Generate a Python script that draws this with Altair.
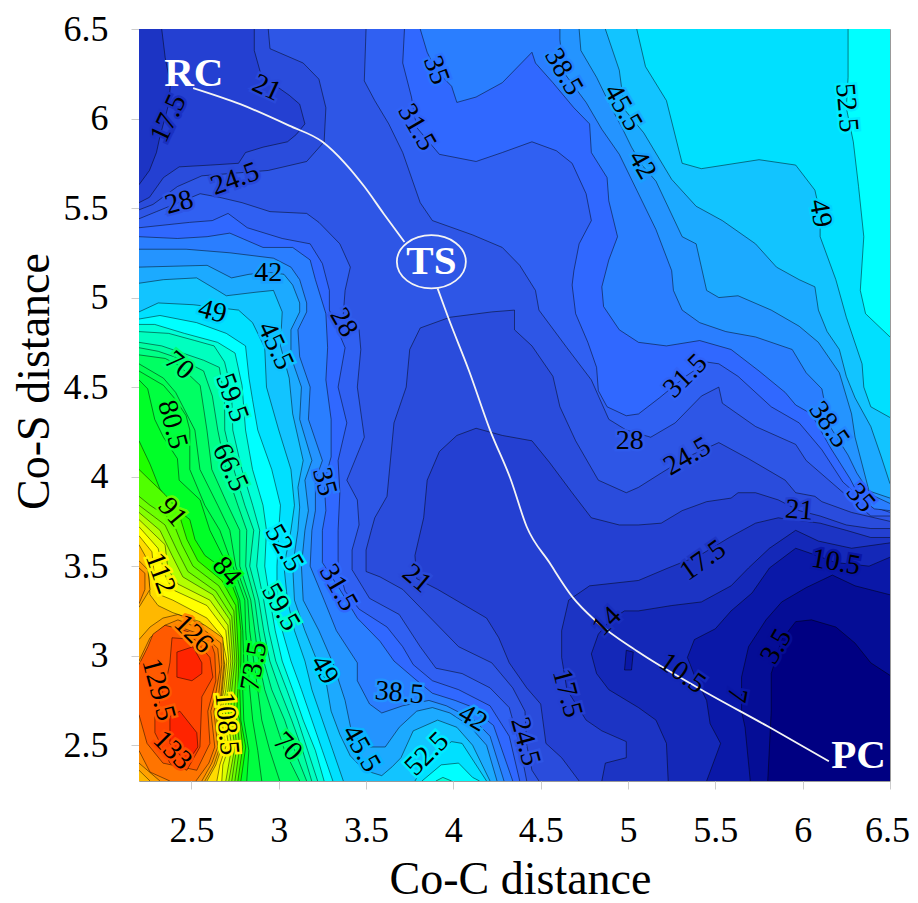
import altair as alt
import pandas as pd

OUTL, OUTR, OUTB, OUTT = 2.0, 6.7, 2.1, 6.7
STATION_Y = [4.26, 4.04, 3.84, 3.70, 3.50, 3.31, 3.14, 2.97, 2.81, 2.64, 2.47, 2.30]

RIGHT28 = [(3.50,6.50),(3.49,6.21),(3.55,6.10),(3.63,5.97),(3.71,5.81),(3.81,5.53),(3.88,5.43),(4.11,5.35),(4.28,5.28),(4.38,5.18),(4.47,5.04),(4.49,4.93),(4.65,4.72),(4.79,4.54),(4.89,4.32),(4.99,4.26),(5.13,4.22),(5.27,4.30),(5.42,4.45),(5.52,4.50),(5.54,4.41),(5.73,4.28),(5.96,4.18),(6.02,4.09),(6.15,3.98),(6.28,3.87),(6.39,3.78),(6.50,3.78)]
LEFT28 = [(4.42,2.30),(4.38,2.50),(4.32,2.71),(4.21,2.82),(4.05,2.90),(3.90,2.93),(3.81,3.05),(3.69,3.23),(3.52,3.32),(3.42,3.48),(3.42,3.59),(3.46,3.73),(3.45,3.87),(3.39,3.98),(3.49,4.22),(3.45,4.50),(3.47,4.71),(3.46,4.82),(3.37,4.91),(3.38,5.04),(3.41,5.17),(3.35,5.30),(3.23,5.42),(3.16,5.47),(2.95,5.48),(2.79,5.53),(2.66,5.56),(2.55,5.58),(2.30,5.48),(2.20,5.44)]
UL245 = [(2.94,6.5),(2.95,6.39),(3.14,6.31),(3.23,6.22),(3.27,6.06),(3.26,5.87),(3.16,5.76),(2.94,5.71),(2.56,5.68),(2.42,5.62),(2.28,5.52),(2.20,5.49)]
UL21 = [(2.86,6.5),(2.86,6.38),(2.90,6.24),(3.06,6.13),(3.12,6.08),(3.15,5.97),(3.10,5.91),(3.05,5.87),(2.91,5.84),(2.81,5.81),(2.77,5.75),(2.61,5.74),(2.43,5.73),(2.34,5.67),(2.26,5.56),(2.20,5.53)]
UL175 = [(2.33,6.5),(2.35,6.34),(2.38,6.19),(2.37,6.08),(2.32,5.90),(2.30,5.81),(2.26,5.71),(2.20,5.63)]
V245 = [(4.49,2.30),(4.45,2.36),(4.42,2.50),(4.41,2.69),(4.34,2.82),(4.22,2.96),(4.03,3.05),(3.92,3.16),(3.71,3.37),(3.58,3.44),(3.50,3.47),(3.50,3.59),(3.53,3.70),(3.55,3.77),(3.62,3.89),(3.66,4.30),(3.73,4.50),(3.75,4.71),(3.81,4.83),(3.98,4.89),(4.22,4.92),(4.35,4.93),(4.35,4.82),(4.45,4.73),(4.57,4.56),(4.61,4.39),(4.70,4.20),(4.83,3.98),(4.99,3.91),(5.06,3.94),(5.19,4.02),(5.34,4.11),(5.52,4.19),(5.69,4.10),(5.90,3.98),(5.96,3.91),(6.07,3.89),(6.11,3.86),(6.28,3.80),(6.50,3.75)]
V21 = [(4.72,2.30),(4.62,2.43),(4.53,2.51),(4.50,2.73),(4.42,2.82),(4.32,2.96),(4.26,3.10),(4.19,3.21),(3.91,3.37),(3.79,3.43),(3.78,3.56),(3.83,3.77),(3.85,3.98),(3.92,4.14),(4.02,4.23),(4.13,4.27),(4.28,4.23),(4.45,4.20),(4.55,4.08),(4.68,3.91),(4.79,3.77),(4.95,3.73),(5.06,3.73),(5.19,3.74),(5.31,3.81),(5.45,3.86),(5.59,3.88),(5.63,3.91),(5.73,3.91),(5.86,3.87),(5.98,3.81),(6.10,3.78),(6.25,3.73),(6.39,3.71),(6.50,3.71)]
V175 = [(4.85,2.30),(4.87,2.40),(4.99,2.43),(4.99,2.52),(4.85,2.58),(4.76,2.64),(4.65,2.81),(4.62,2.99),(4.62,3.14),(4.66,3.31),(4.78,3.39),(5.06,3.42),(5.23,3.49),(5.41,3.56),(5.58,3.66),(5.73,3.74),(5.86,3.77),(6.10,3.74),(6.25,3.70),(6.39,3.66),(6.50,3.66)]
V14 = [(5.23,2.30),(5.22,2.51),(5.16,2.64),(5.06,2.71),(4.89,2.81),(4.82,2.90),(4.79,3.01),(4.83,3.12),(4.90,3.20),(4.98,3.25),(5.06,3.25),(5.25,3.28),(5.42,3.30),(5.59,3.39),(5.69,3.49),(5.81,3.60),(5.96,3.70),(6.09,3.64),(6.28,3.60),(6.50,3.63)]
V105 = [(5.45,2.30),(5.53,2.51),(5.47,2.62),(5.45,2.75),(5.38,2.89),(5.34,2.99),(5.38,3.09),(5.50,3.15),(5.59,3.25),(5.71,3.35),(5.81,3.49),(5.96,3.60),(6.05,3.57),(6.19,3.52),(6.38,3.50),(6.50,3.55)]
PATCH105 = [(4.99,3.03),(5.03,3.02),(5.02,2.92),(4.98,2.92)]
V7 = [(5.70,2.30),(5.67,2.60),(5.65,2.69),(5.65,2.88),(5.69,3.05),(5.79,3.20),(5.88,3.30),(6.02,3.38),(6.17,3.45),(6.30,3.39),(6.50,3.34)]
V35 = [(5.80,2.30),(5.82,2.69),(5.82,2.90),(5.88,3.09),(5.96,3.19),(6.05,3.20),(6.19,3.16),(6.30,3.07),(6.39,2.96),(6.50,2.89)]

R315 = [(3.72,6.5),(3.71,6.31),(3.76,6.12),(3.79,5.95),(3.92,5.80),(4.13,5.76),(4.28,5.81),(4.45,5.87),(4.59,5.82),(4.68,5.75),(4.76,5.58),(4.79,5.43),(4.72,5.30),(4.69,5.15),(4.68,5.07),(4.70,4.91),(4.77,4.75),(4.82,4.61),(4.83,4.48),(4.88,4.39),(4.99,4.34),(5.06,4.35),(5.18,4.44),(5.33,4.56),(5.45,4.64),(5.52,4.63),(5.63,4.56),(5.82,4.39),(5.98,4.30),(6.11,4.15),(6.23,3.97),(6.38,3.84),(6.50,3.80)]
R35 = [(3.81,6.5),(3.85,6.37),(3.90,6.27),(3.99,6.18),(4.02,6.09),(4.13,6.12),(4.28,6.20),(4.45,6.37),(4.47,6.31),(4.57,6.20),(4.69,6.06),(4.78,5.97),(4.79,5.81),(4.88,5.67),(4.89,5.54),(4.94,5.34),(4.89,5.21),(4.85,5.06),(4.86,4.95),(4.95,4.82),(5.06,4.75),(5.22,4.73),(5.41,4.76),(5.59,4.71),(5.75,4.59),(5.90,4.47),(5.96,4.40),(6.05,4.35),(6.16,4.16),(6.27,3.99),(6.33,3.88),(6.41,3.82),(6.50,3.81)]
R385 = [(4.61,6.5),(4.61,6.44),(4.63,6.26),(4.76,6.09),(4.85,5.94),(4.95,5.80),(5.05,5.60),(5.16,5.38),(5.25,5.15),(5.26,5.04),(5.31,4.93),(5.41,4.86),(5.56,4.81),(5.73,4.78),(5.94,4.71),(6.02,4.58),(6.11,4.49),(6.15,4.29),(6.26,4.12),(6.31,4.02),(6.39,3.90),(6.50,3.85)]
R42 = [(4.72,6.5),(4.73,6.38),(4.82,6.23),(4.91,6.05),(4.97,5.94),(5.02,5.84),(5.08,5.74),(5.16,5.65),(5.31,5.34),(5.39,5.30),(5.42,5.17),(5.45,5.04),(5.52,5.00),(5.63,5.01),(5.82,4.93),(5.98,4.84),(6.09,4.75),(6.21,4.58),(6.28,4.35),(6.30,4.22),(6.38,3.92),(6.50,3.88)]
R455 = [(4.87,6.5),(4.95,6.27),(4.98,6.05),(5.09,5.92),(5.25,5.66),(5.39,5.51),(5.54,5.43),(5.73,5.30),(5.85,5.17),(5.98,5.10),(6.07,5.06),(6.09,4.93),(6.14,4.81),(6.21,4.71),(6.25,4.56),(6.30,4.44),(6.39,4.28),(6.45,4.11),(6.50,3.96)]
R49 = [(5.05,6.5),(5.10,6.29),(5.22,6.10),(5.31,5.75),(5.42,5.72),(5.75,5.77),(5.96,5.74),(6.07,5.60),(6.10,5.47),(6.10,5.34),(6.19,5.10),(6.25,4.89),(6.34,4.63),(6.35,4.50),(6.39,4.39),(6.50,4.33)]
R525 = [(6.26,6.5),(6.26,6.23),(6.25,6.06),(6.29,5.87),(6.32,5.62),(6.35,5.34),(6.33,5.04),(6.36,4.91),(6.50,4.78)]

H315 = [(2.20,5.39),(2.49,5.42),(2.62,5.43),(2.71,5.47),(2.82,5.39),(3.02,5.33),(3.18,5.30),(3.25,5.19),(3.29,5.04),(3.29,4.93),(3.38,4.72),(3.34,4.50),(3.39,4.30),(3.34,4.09),(3.35,3.91),(3.34,3.70),(3.34,3.50),(3.38,3.36),(3.46,3.26),(3.62,3.16),(3.71,3.05),(3.77,2.95),(3.88,2.86),(4.03,2.81),(4.21,2.72),(4.32,2.55),(4.38,2.30)]
H35 = [(2.20,5.34),(2.42,5.33),(2.59,5.34),(2.72,5.36),(2.91,5.28),(3.08,5.28),(3.18,5.21),(3.21,5.10),(3.27,4.91),(3.28,4.72),(3.27,4.54),(3.30,4.32),(3.30,4.11),(3.26,3.97),(3.27,3.81),(3.25,3.70),(3.25,3.52),(3.35,3.37),(3.45,3.21),(3.58,3.08),(3.66,2.97),(3.78,2.87),(3.88,2.79),(4.01,2.75),(4.09,2.72),(4.23,2.61),(4.34,2.30)]
H385 = [(2.20,5.27),(2.47,5.27),(2.72,5.25),(2.97,5.22),(3.07,5.17),(3.12,5.10),(3.16,4.97),(3.16,4.92),(3.11,4.82),(3.12,4.67),(3.18,4.50),(3.17,4.32),(3.25,4.09),(3.21,3.98),(3.21,3.81),(3.19,3.70),(3.18,3.50),(3.26,3.31),(3.33,3.14),(3.45,2.96),(3.45,2.86),(3.52,2.73),(3.59,2.68),(3.71,2.72),(3.86,2.75),(3.96,2.72),(4.02,2.69),(4.11,2.65),(4.21,2.55),(4.29,2.30)]
H42 = [(2.20,5.17),(2.59,5.18),(2.73,5.11),(2.83,5.13),(2.95,5.14),(3.03,5.13),(3.08,5.07),(3.12,4.97),(3.12,4.92),(3.07,4.82),(3.07,4.67),(3.13,4.50),(3.12,4.32),(3.19,4.09),(3.15,3.98),(3.17,3.81),(3.15,3.70),(3.13,3.50),(3.14,3.31),(3.23,3.14),(3.31,2.96),(3.38,2.75),(3.42,2.56),(3.52,2.49),(3.61,2.49),(3.69,2.60),(3.79,2.69),(3.88,2.71),(3.98,2.68),(4.09,2.61),(4.19,2.50),(4.25,2.30)]
H455 = [(2.20,5.08),(2.34,5.10),(2.53,5.11),(2.65,5.04),(2.70,5.01),(2.87,5.03),(2.97,5.04),(3.02,4.92),(3.01,4.73),(3.06,4.55),(3.08,4.35),(3.14,4.09),(3.11,3.94),(3.12,3.83),(3.11,3.70),(3.08,3.50),(3.09,3.31),(3.15,3.14),(3.22,2.97),(3.27,2.86),(3.30,2.69),(3.35,2.56),(3.41,2.44),(3.49,2.36),(3.59,2.33),(3.65,2.38),(3.70,2.43),(3.77,2.58),(3.91,2.64),(4.02,2.60),(4.11,2.50),(4.21,2.30)]
H49 = [(2.20,4.92),(2.31,4.97),(2.51,4.96),(2.77,4.93),(2.85,4.86),(2.92,4.72),(2.93,4.50),(3.00,4.26),(3.07,4.04),(3.09,3.84),(3.07,3.70),(3.03,3.50),(3.05,3.31),(3.09,3.14),(3.15,2.97),(3.19,2.81),(3.25,2.64),(3.31,2.47),(3.37,2.30)]
D49 = [(3.78,2.30),(3.86,2.43),(3.99,2.52),(4.05,2.51),(4.15,2.36),(4.19,2.30)]
D525 = [(3.82,2.30),(3.93,2.39),(4.03,2.40),(4.11,2.32),(4.15,2.30)]
D56 = [(3.90,2.30),(3.94,2.32),(3.99,2.30)]

H525_HEAD = [(2.20,4.88),(2.32,4.90),(2.53,4.86),(2.70,4.80),(2.81,4.73),(2.83,4.55),(2.85,4.43)]
H525_X = [2.88,2.96,3.01,3.00,2.99,2.99,3.02,3.07,3.13,3.19,3.25,3.31]
H56_HEAD = [(2.20,4.85),(2.29,4.85),(2.46,4.80),(2.65,4.75),(2.75,4.69),(2.79,4.51)]
H56_X = [2.81,2.85,2.91,2.93,2.92,2.95,2.98,3.02,3.08,3.14,3.21,3.26]
H595_HEAD = [(2.20,4.81),(2.37,4.80),(2.52,4.76),(2.63,4.73),(2.69,4.64),(2.73,4.48)]
H595_X = [2.737,2.789,2.851,2.891,2.874,2.914,2.943,2.983,3.046,3.109,3.166,3.223]
H63_HEAD = [(2.20,4.75),(2.33,4.73),(2.57,4.65),(2.66,4.61),(2.69,4.43)]
H63_X = [2.691,2.743,2.806,2.857,2.834,2.886,2.914,2.949,3.006,3.074,3.137,3.189]
H665_HEAD = [(2.20,4.72),(2.31,4.70),(2.43,4.66),(2.57,4.59),(2.62,4.45)]
H665_X = [2.651,2.697,2.766,2.817,2.811,2.863,2.886,2.914,2.96,3.034,3.091,3.16]
H70_HEAD = [(2.20,4.68),(2.35,4.66),(2.43,4.62),(2.55,4.51)]
H70_X = [2.589,2.617,2.709,2.777,2.777,2.84,2.863,2.886,2.92,2.977,3.034,3.12]
H735_HEAD = [(2.20,4.63),(2.34,4.55),(2.41,4.47)]
H735_X = [2.52,2.549,2.651,2.72,2.754,2.823,2.834,2.857,2.88,2.903,2.949,3.006]
H77_HEAD = [(2.20,4.59),(2.34,4.51),(2.41,4.43),(2.47,4.34)]
H77_X = [2.491,2.491,2.577,2.663,2.737,2.806,2.811,2.823,2.834,2.851,2.88,2.903]

H805 = [(2.20,4.54),(2.25,4.49),(2.29,4.32),(2.34,4.22),(2.42,4.10),(2.43,3.98),(2.55,3.87),(2.606,3.70),(2.709,3.50),(2.777,3.31),(2.794,3.14),(2.80,2.97),(2.794,2.81),(2.80,2.64),(2.829,2.47),(2.817,2.30)]
H84 = [(2.20,4.20),(2.263,4.07),(2.32,3.93),(2.389,3.84),(2.491,3.76),(2.52,3.65),(2.577,3.56),(2.703,3.47),(2.766,3.31),(2.783,3.14),(2.783,2.97),(2.777,2.81),(2.783,2.64),(2.811,2.49),(2.783,2.30)]
H875 = [(2.20,4.04),(2.263,3.98),(2.349,3.90),(2.423,3.81),(2.474,3.65),(2.537,3.53),(2.674,3.42),(2.754,3.28),(2.771,2.97),(2.766,2.81),(2.76,2.69),(2.777,2.64),(2.794,2.49),(2.766,2.30)]
H91 = [(2.20,3.89),(2.263,3.84),(2.389,3.76),(2.446,3.62),(2.509,3.50),(2.657,3.39),(2.743,3.25),(2.76,2.97),(2.749,2.81),(2.743,2.69),(2.76,2.64),(2.777,2.49),(2.749,2.30)]
H945 = [(2.20,3.84),(2.349,3.73),(2.417,3.59),(2.48,3.47),(2.64,3.36),(2.731,3.22),(2.749,2.97),(2.731,2.81),(2.726,2.69),(2.743,2.64),(2.76,2.49),(2.731,2.30)]
H98 = [(2.20,3.80),(2.32,3.70),(2.389,3.56),(2.451,3.44),(2.623,3.34),(2.72,3.20),(2.737,2.97),(2.72,2.81),(2.709,2.69),(2.726,2.64),(2.749,2.49),(2.714,2.30)]
H1015 = [(2.20,3.76),(2.349,3.62),(2.366,3.48),(2.423,3.40),(2.606,3.31),(2.709,3.17),(2.726,2.97),(2.709,2.81),(2.691,2.69),(2.709,2.64),(2.731,2.49),(2.697,2.30)]
H105 = [(2.20,3.72),(2.309,3.60),(2.349,3.45),(2.389,3.37),(2.589,3.28),(2.697,3.14),(2.714,2.97),(2.697,2.81),(2.674,2.69),(2.691,2.64),(2.714,2.49),(2.68,2.39),(2.674,2.30)]
H1085 = [(2.20,3.67),(2.274,3.58),(2.291,3.42),(2.32,3.34),(2.394,3.31),(2.589,3.21),(2.674,3.11),(2.703,2.97),(2.686,2.81),(2.663,2.69),(2.674,2.64),(2.697,2.49),(2.663,2.39),(2.646,2.30)]
H112 = [(2.20,3.62),(2.251,3.53),(2.263,3.34),(2.309,3.28),(2.394,3.24),(2.549,3.19),(2.663,3.09),(2.691,2.95),(2.674,2.78),(2.646,2.69),(2.674,2.49),(2.64,2.39),(2.589,2.30)]
H1155 = [(2.20,3.09),(2.263,3.16),(2.337,3.21),(2.423,3.23),(2.577,3.17),(2.68,3.10),(2.686,2.95),(2.669,2.78),(2.64,2.69),(2.663,2.49),(2.629,2.39),(2.577,2.30),(2.577,2.1),(2.263,2.1),(2.263,2.30),(2.20,2.36),(2.0,2.36),(2.0,3.09)]
H119 = [(2.20,2.97),(2.263,3.10),(2.349,3.17),(2.423,3.20),(2.577,3.14),(2.669,3.07),(2.674,2.95),(2.657,2.79),(2.629,2.69),(2.651,2.49),(2.617,2.40),(2.56,2.30),(2.56,2.1),(2.32,2.1),(2.32,2.30),(2.20,2.40),(2.0,2.40),(2.0,2.97)]
H1225 = [(2.20,2.81),(2.251,3.0),(2.291,3.11),(2.366,3.16),(2.434,3.16),(2.577,3.11),(2.651,3.04),(2.663,2.92),(2.64,2.79),(2.611,2.69),(2.634,2.49),(2.6,2.40),(2.526,2.30),(2.526,2.1),(2.377,2.1),(2.377,2.30),(2.263,2.35),(2.20,2.47),(2.0,2.47),(2.0,2.81)]
H126 = [(2.349,3.17),(2.463,3.14),(2.606,3.09),(2.634,3.01),(2.64,2.86),(2.594,2.69),(2.606,2.51),(2.531,2.36),(2.337,2.40),(2.246,2.51),(2.20,2.67),(2.0,2.67),(2.0,3.0),(2.20,2.95),(2.251,3.05),(2.28,3.12)]
H1295 = [(2.389,3.10),(2.52,3.09),(2.606,2.99),(2.623,2.88),(2.56,2.77),(2.549,2.49),(2.474,2.36),(2.377,2.40),(2.291,2.57),(2.291,2.66),(2.36,2.88),(2.377,2.96)]
H133A = [(2.417,3.02),(2.509,3.05),(2.56,2.96),(2.56,2.90),(2.503,2.86),(2.417,2.88)]
H133B = [(2.377,2.66),(2.434,2.69),(2.531,2.57),(2.537,2.49),(2.474,2.40),(2.377,2.51)]
BLOB1155 = [(2.20,3.53),(2.251,3.48),(2.263,3.37),(2.20,3.27)]
BLOB119 = [(2.20,3.49),(2.234,3.46),(2.234,3.37),(2.20,3.29)]

REACTION_A = [(2.51,6.17),(2.78,6.08),(3.06,5.96),(3.25,5.87),(3.38,5.75),(3.49,5.62),(3.60,5.47),(3.72,5.31)]
REACTION_B = [(3.91,5.05),(3.97,4.89),(4.09,4.59),(4.21,4.26),(4.33,3.98),(4.42,3.72),(4.55,3.52),(4.68,3.33),(4.82,3.19),(5.06,3.02),(5.42,2.81),(5.81,2.60),(6.15,2.41)]

LABEL_TEXT = ["17.5","21","24.5","28","42","49","45.5","28","70","59.5","80.5","66.5","35","91","52.5","112","84","31.5","59.5","126","73.5","129.5","49","108.5","133","70","45.5","38.5","52.5","42","24.5","21","17.5","14","10.5","7","3.5","10.5","17.5","21","35","24.5","28","31.5","38.5","35","31.5","38.5","45.5","42","52.5","49"]
LABEL_X = [2.37,2.93,2.75,2.43,2.94,2.62,2.98,3.37,2.43,2.73,2.39,2.72,3.26,2.39,3.03,2.32,2.70,3.34,3.01,2.51,2.86,2.31,3.26,2.70,2.39,3.05,3.47,3.69,3.85,4.11,4.41,3.79,4.65,4.88,5.31,5.62,5.85,6.19,5.43,5.98,6.33,5.34,5.01,5.33,6.15,3.90,3.79,4.63,4.97,5.08,6.25,6.10]
LABEL_Y = [6.00,6.17,5.66,5.53,5.14,4.92,4.73,4.86,4.62,4.44,4.29,4.05,3.97,3.80,3.60,3.46,3.47,3.38,3.27,3.12,2.94,2.81,2.92,2.62,2.47,2.49,2.48,2.79,2.45,2.65,2.52,3.43,2.79,3.19,2.90,2.78,3.05,3.52,3.53,3.81,3.88,4.11,4.20,4.56,4.29,6.27,5.95,6.26,6.06,5.74,6.06,5.47]
LABEL_ANGLE = [295,25,340,345,0,15,65,60,40,70,75,65,75,50,60,70,50,60,60,45,280,75,60,85,45,45,60,5,315,30,75,40,75,315,35,100,300,10,325,5,50,330,0,315,55,70,60,60,60,60,85,80]
LABEL_HALO = [15,22,22,26,42,49,47,28,70,59,80,65,36,91,52,108,84,33,59,122,82,128,49,108,130,72,45,40,52,42,26,22,19,14,12,8,5,8,16,19,33,24,28,31,38,35,31,38,44,42,52,49]

NAMES = ["RC", "TS", "PC"]
NAME_X = [2.514, 3.874, 6.32]
NAME_Y = [6.25, 5.20, 2.44]

BAND_DOMAIN = [1.75, 5.25, 8.75, 12.25, 15.75, 19.25, 22.75, 26.25, 29.75, 33.25, 36.75, 40.25, 43.75, 47.25, 50.75, 54.25, 57.75, 64, 72, 85, 96, 106.75, 113.75, 120, 127.75, 134.75]
BAND_COLOR = ["#000082", "#050d96", "#0a18a8", "#1428b8", "#1c34c4", "#2440d2", "#2a4cdc", "#2e56e6", "#3060f2", "#3068ff", "#2a7eff", "#2494ff", "#1caaff", "#12c4ff", "#00e0ff", "#00ffff", "#00ffd8", "#00ffa8", "#00ff60", "#00ff00", "#80ff00", "#ffff00", "#ffb800", "#ff9000", "#ff5a00", "#ff2400"]


def c_tl(p):
    return p + [(OUTL, p[-1][1]), (OUTL, OUTT), (p[0][0], OUTT), p[0]]
def c_tr(p):
    return p + [(OUTR, p[-1][1]), (OUTR, OUTT), (p[0][0], OUTT), p[0]]
def c_br(p):
    return p + [(OUTR, p[-1][1]), (OUTR, OUTB), (p[0][0], OUTB), p[0]]
def c_bl(p):
    return p + [(p[-1][0], OUTB), (OUTL, OUTB), (OUTL, p[0][1]), p[0]]
def c_b(p):
    return p + [(p[-1][0], OUTB), (p[0][0], OUTB), p[0]]
def c_l(p):
    return p + [(OUTL, p[-1][1]), (OUTL, p[0][1]), p[0]]
def c_o(p):
    return p + [p[0]]
def st(head, xs):
    return head + list(zip(xs, STATION_Y))


V28 = RIGHT28 + [(OUTR, RIGHT28[-1][1]), (OUTR, OUTB), (LEFT28[0][0], OUTB)] + LEFT28 + [(OUTL, LEFT28[-1][1]), (OUTL, OUTT), (RIGHT28[0][0], OUTT), RIGHT28[0]]

POLYGONS = [
    (29.75, [(OUTL, OUTB), (OUTL, OUTT), (OUTR, OUTT), (OUTR, OUTB)]),
    (26.25, V28),
    (22.75, c_tl(UL245)), (19.25, c_tl(UL21)), (15.75, c_tl(UL175)),
    (22.75, c_br(V245)), (19.25, c_br(V21)), (15.75, c_br(V175)), (12.25, c_br(V14)),
    (8.75, c_br(V105)), (8.75, c_o(PATCH105)), (5.25, c_br(V7)), (1.75, c_br(V35)),
    (33.25, c_tr(R315)), (36.75, c_tr(R35)), (40.25, c_tr(R385)), (43.75, c_tr(R42)),
    (47.25, c_tr(R455)), (50.75, c_tr(R49)), (54.25, c_tr(R525)),
    (33.25, c_bl(H315)), (36.75, c_bl(H35)), (40.25, c_bl(H385)), (43.75, c_bl(H42)),
    (47.25, c_bl(H455)), (50.75, c_bl(H49)), (50.75, c_b(D49)), (54.25, c_b(D525)), (57.75, c_b(D56)),
    (54.25, c_bl(st(H525_HEAD, H525_X))), (57.75, c_bl(st(H56_HEAD, H56_X))),
    (61.25, c_bl(st(H595_HEAD, H595_X))), (64.75, c_bl(st(H63_HEAD, H63_X))),
    (68.25, c_bl(st(H665_HEAD, H665_X))), (71.75, c_bl(st(H70_HEAD, H70_X))),
    (75.25, c_bl(st(H735_HEAD, H735_X))), (78.75, c_bl(st(H77_HEAD, H77_X))),
    (82.25, c_bl(H805)), (85.75, c_bl(H84)), (89.25, c_bl(H875)), (92.75, c_bl(H91)),
    (96.25, c_bl(H945)), (99.75, c_bl(H98)), (103.25, c_bl(H1015)), (106.75, c_bl(H105)),
    (110.25, c_bl(H1085)), (113.75, c_bl(H112)),
    (117.25, c_l(BLOB1155)), (120.75, c_l(BLOB119)),
    (117.25, c_o(H1155)), (120.75, c_o(H119)), (124.25, c_o(H1225)), (127.75, c_o(H126)),
    (131.25, c_o(H1295)), (134.75, c_o(H133A)), (134.75, c_o(H133B)),
]

rows = []
for pid, (band, pts) in enumerate(POLYGONS):
    for i, (x, y) in enumerate(pts):
        rows.append({"poly": pid, "band": band, "i": i, "x": x, "y": y})
poly_df = pd.DataFrame(rows)

path_df = pd.DataFrame(
    [{"seg": 0, "i": i, "x": x, "y": y} for i, (x, y) in enumerate(REACTION_A)]
    + [{"seg": 1, "i": i, "x": x, "y": y} for i, (x, y) in enumerate(REACTION_B)]
)
label_df = pd.DataFrame({"t": LABEL_TEXT, "x": LABEL_X, "y": LABEL_Y, "a": LABEL_ANGLE, "h": LABEL_HALO})
name_df = pd.DataFrame({"t": NAMES, "x": NAME_X, "y": NAME_Y})

SERIF = "Liberation Serif"
band_scale = alt.Scale(domain=BAND_DOMAIN, range=BAND_COLOR)
x_enc = alt.X("x:Q", scale=alt.Scale(domain=[2.2, 6.5], nice=False, zero=False),
              axis=alt.Axis(values=[2.5, 3, 3.5, 4, 4.5, 5, 5.5, 6, 6.5], format="~g", title="Co-C distance",
                            grid=False, domain=False, tickColor="#cccccc", tickSize=8,
                            labelFont=SERIF, labelFontSize=36, labelColor="black", labelPadding=24, labelOverlap=False, labelFlush=False,
                            labelOffset={"condition": {"test": "datum.value == 6.5", "value": -3}, "value": 0},
                            titleFont=SERIF, titleFontSize=46, titleFontWeight="normal", titleColor="black",
                            titleX=381, titleY=98, titleBaseline="middle", titleAlign="center"))
y_enc = alt.Y("y:Q", scale=alt.Scale(domain=[2.3, 6.5], nice=False, zero=False),
              axis=alt.Axis(values=[2.5, 3, 3.5, 4, 4.5, 5, 5.5, 6, 6.5], format="~g", title="Co-S distance",
                            grid=False, domain=False, tickColor="#cccccc", tickSize=8,
                            labelFont=SERIF, labelFontSize=36, labelColor="black", labelPadding=23, labelOverlap=False, labelFlush=False,
                            titleFont=SERIF, titleFontSize=46, titleFontWeight="normal", titleColor="black",
                            titleX=-105, titleY=352, titleBaseline="middle", titleAlign="center"))

polys = alt.Chart(poly_df).mark_line(clip=True, stroke="black", strokeWidth=0.6, strokeOpacity=0.8).encode(
    x=x_enc, y=y_enc,
    fill=alt.Fill("band:Q", scale=band_scale, legend=None),
    detail="poly:O",
    order="i:Q",
)
reaction = alt.Chart(path_df).mark_line(clip=True, color="#f4f4f4", strokeWidth=1.8, interpolate="monotone").encode(
    x="x:Q", y="y:Q", detail="seg:N", order="i:Q")
ellipse = alt.Chart(name_df[name_df.t == "TS"]).mark_point(
    filled=False, stroke="#f4f4f4", strokeWidth=1.8, opacity=1, size=4761,
    shape="M-1,0C-1,-0.43,-0.55,-0.77,0,-0.77C0.55,-0.77,1,-0.43,1,0C1,0.43,0.55,0.77,0,0.77C-0.55,0.77,-1,0.43,-1,0Z",
).encode(x="x:Q", y="y:Q")
halo = alt.Chart(label_df).mark_text(font=SERIF, fontSize=28, strokeWidth=5, fillOpacity=0, align="center", baseline="middle").encode(
    x="x:Q", y="y:Q", text="t:N", angle=alt.Angle("a:Q", scale=None),
    stroke=alt.Stroke("h:Q", scale=band_scale, legend=None))
text = alt.Chart(label_df).mark_text(font=SERIF, fontSize=28, color="black", align="center", baseline="middle").encode(
    x="x:Q", y="y:Q", text="t:N", angle=alt.Angle("a:Q", scale=None))
names = alt.Chart(name_df).mark_text(font=SERIF, fontSize=41, fontWeight="bold", color="white", align="center", baseline="middle").encode(
    x="x:Q", y="y:Q", text="t:N")

chart = alt.layer(polys, halo, reaction, ellipse, text, names).properties(
    width=751, height=752,
    autosize=alt.AutoSizeParams(type="none"),
    padding={"left": 131, "top": 21, "right": 20, "bottom": 122},
).configure_view(stroke="#999999", strokeWidth=1)

chart.save("out.html", embed_options={"renderer": "svg", "actions": False})
